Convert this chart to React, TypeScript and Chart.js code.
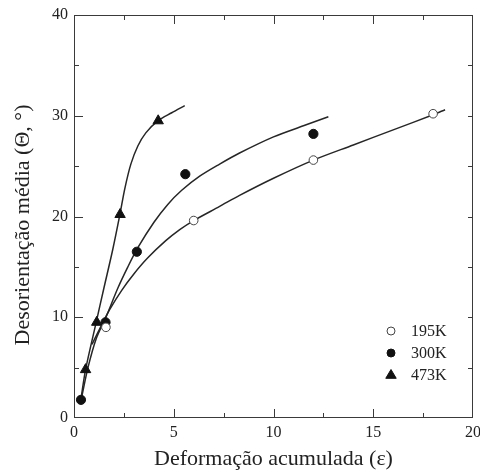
import React, { useEffect, useRef } from "react";
import { Chart, registerables } from "chart.js";

Chart.register(...registerables);

// Measured misorientation vs accumulated strain, three deformation temperatures
const strain195 = [1.6, 6.0, 12.0, 18.0];
const theta195 = [9.0, 19.6, 25.6, 30.2];

const strain300 = [0.35, 1.58, 3.15, 5.58, 12.0];
const theta300 = [1.8, 9.5, 16.5, 24.2, 28.2];

const strain473 = [0.58, 1.14, 2.31, 4.22];
const theta473 = [4.8, 9.5, 20.2, 29.5];

// Trend curves traced through each series
const fit195X = [0.9, 1.3, 1.8, 2.4, 3.0, 3.7, 4.6, 5.3, 6.0, 7.3, 8.3, 10, 12, 14, 16, 18, 18.6];
const fit195Y = [7.3, 8.9, 10.8, 12.7, 14.3, 15.9, 17.6, 18.7, 19.6, 21.0, 22.1, 23.8, 25.6, 27.1, 28.6, 30.1, 30.6];

const fit300X = [0.4, 0.7, 1.1, 1.6, 2.2, 2.7, 3.2, 4.0, 4.7, 5.4, 6.3, 7.3, 8.3, 10.0, 11.5, 12.75];
const fit300Y = [2.2, 5.0, 7.8, 10.0, 12.9, 15.0, 16.9, 19.4, 21.2, 22.6, 24.0, 25.2, 26.3, 27.9, 29.0, 29.9];

const fit473X = [0.35, 0.58, 1.1, 1.5, 1.94, 2.3, 2.55, 2.85, 3.2, 3.6, 4.2, 4.9, 5.55];
const fit473Y = [1.9, 4.8, 9.4, 12.9, 16.7, 20.2, 22.8, 25.2, 27.0, 28.3, 29.5, 30.3, 31.0];

const seriesLabels = ["195K", "300K", "473K"];

const xTitle = "Deformação acumulada (ε)";
const yTitle = "Desorientação média (Θ, °)";

const xTickLabels = [0, 5, 10, 15, 20];
const yTickLabels = [0, 10, 20, 30, 40];

const FONT = "'Liberation Serif', 'DejaVu Serif', 'Times New Roman', serif";
const INK = "#222";
const FRAME = "#3a3a3a";

const zip = (xs: number[], ys: number[]) => xs.map((x, i) => ({ x, y: ys[i] }));

const frameAndTicks = {
  id: "frameAndTicks",
  afterDatasetsDraw(chart: any) {
    const { ctx, chartArea, scales } = chart;
    const { left, right, top, bottom } = chartArea;
    const xs = scales.x;
    const ys = scales.y;
    ctx.save();
    ctx.strokeStyle = FRAME;
    ctx.lineWidth = 1;
    ctx.strokeRect(left + 0.5, top + 0.5, right - left - 1, bottom - top - 1);
    ctx.beginPath();
    xs.ticks.forEach((t: any) => {
      const v = t.value;
      if (v <= xs.min || v >= xs.max) return;
      const px = Math.round(xs.getPixelForValue(v)) + 0.5;
      const len = xTickLabels.includes(v) ? 9 : 5;
      ctx.moveTo(px, bottom);
      ctx.lineTo(px, bottom - len);
      ctx.moveTo(px, top);
      ctx.lineTo(px, top + len);
    });
    ys.ticks.forEach((t: any) => {
      const v = t.value;
      if (v <= ys.min || v >= ys.max) return;
      const py = Math.round(ys.getPixelForValue(v)) + 0.5;
      const len = yTickLabels.includes(v) ? 9 : 5;
      ctx.moveTo(left, py);
      ctx.lineTo(left + len, py);
      ctx.moveTo(right, py);
      ctx.lineTo(right - 5, py);
    });
    ctx.stroke();

    // vertical axis title
    ctx.fillStyle = INK;
    ctx.font = `22px ${FONT}`;
    ctx.textAlign = "center";
    ctx.textBaseline = "middle";
    ctx.translate(23.5, 225);
    ctx.rotate(-Math.PI / 2);
    ctx.fillText(yTitle, 0, 0);
    ctx.restore();
  },
};

const insetLegend = {
  id: "insetLegend",
  afterDraw(chart: any) {
    const { ctx, chartArea } = chart;
    const mx = chartArea.right - 82;
    const tx = chartArea.right - 62;
    const y0 = chartArea.bottom - 87;
    const gap = 22;
    ctx.save();
    ctx.font = `16px ${FONT}`;
    ctx.textAlign = "left";
    ctx.textBaseline = "middle";
    for (let i = 0; i < 3; i++) {
      const ds = chart.data.datasets[i];
      const y = y0 + i * gap;
      ctx.fillStyle = ds.backgroundColor;
      ctx.strokeStyle = ds.borderColor;
      ctx.lineWidth = ds.borderWidth;
      ctx.beginPath();
      if (i === 2) {
        const r = 5.5;
        ctx.moveTo(mx, y - r);
        ctx.lineTo(mx + r * 0.95, y + r * 0.6);
        ctx.lineTo(mx - r * 0.95, y + r * 0.6);
        ctx.closePath();
      } else {
        ctx.arc(mx, y, 4, 0, Math.PI * 2);
      }
      ctx.fill();
      ctx.stroke();
      ctx.fillStyle = INK;
      ctx.fillText(seriesLabels[i], tx, y + 1);
    }
    ctx.restore();
  },
};

export default function App() {
  const canvasRef = useRef<HTMLCanvasElement | null>(null);

  useEffect(() => {
    document.body.style.margin = "0";
    const canvas = canvasRef.current;
    if (!canvas) return;

    const curve = (xs: number[], ys: number[]) => ({
      data: zip(xs, ys),
      showLine: true,
      pointRadius: 0,
      borderColor: "#262626",
      borderWidth: 1.5,
      tension: 0.3,
      order: 3,
    });

    const chart = new Chart(canvas, {
      type: "scatter",
      data: {
        datasets: [
          {
            label: seriesLabels[0],
            data: zip(strain195, theta195),
            pointStyle: "circle",
            pointRadius: 4.3,
            backgroundColor: "#ffffff",
            borderColor: "#444",
            borderWidth: 1,
            order: 0,
          },
          {
            label: seriesLabels[1],
            data: zip(strain300, theta300),
            pointStyle: "circle",
            pointRadius: 4.6,
            backgroundColor: "#111",
            borderColor: "#111",
            borderWidth: 1,
            order: 1,
          },
          {
            label: seriesLabels[2],
            data: zip(strain473, theta473),
            pointStyle: "triangle",
            pointRadius: 6,
            backgroundColor: "#111",
            borderColor: "#111",
            borderWidth: 1,
            order: 1,
          },
          curve(fit195X, fit195Y),
          curve(fit300X, fit300Y),
          curve(fit473X, fit473Y),
        ] as any,
      },
      plugins: [frameAndTicks, insetLegend],
      options: {
        animation: false,
        responsive: false,
        events: [],
        layout: { padding: { top: 15, right: 6, left: 0, bottom: 0 } },
        plugins: {
          legend: { display: false },
          tooltip: { enabled: false },
        },
        scales: {
          x: {
            type: "linear",
            min: 0,
            max: 20,
            grid: { display: false, drawTicks: false },
            border: { display: false },
            ticks: {
              stepSize: 2.5,
              padding: 5,
              color: INK,
              font: { family: FONT, size: 16 },
              maxRotation: 0,
              autoSkip: false,
              callback: (v: any) => (xTickLabels.includes(Number(v)) ? String(v) : ""),
            },
            title: {
              display: true,
              text: xTitle,
              color: INK,
              font: { family: FONT, size: 22 },
              padding: { top: 0, bottom: 0 },
            },
            afterFit: (s: any) => {
              s.height = 54;
              s.paddingLeft = 0;
              s.paddingRight = 0;
            },
          },
          y: {
            type: "linear",
            min: 0,
            max: 40,
            grid: { display: false, drawTicks: false },
            border: { display: false },
            ticks: {
              stepSize: 5,
              padding: 6,
              color: INK,
              font: { family: FONT, size: 16 },
              autoSkip: false,
              callback: (v: any) => (yTickLabels.includes(Number(v)) ? String(v) : ""),
            },
            afterFit: (s: any) => {
              s.width = 74;
              s.paddingTop = 0;
              s.paddingBottom = 0;
            },
          },
        },
      },
    });

    return () => chart.destroy();
  }, []);

  return (
    <div style={{ width: 480, height: 472, background: "#fff" }}>
      <canvas ref={canvasRef} width={480} height={472} />
    </div>
  );
}
